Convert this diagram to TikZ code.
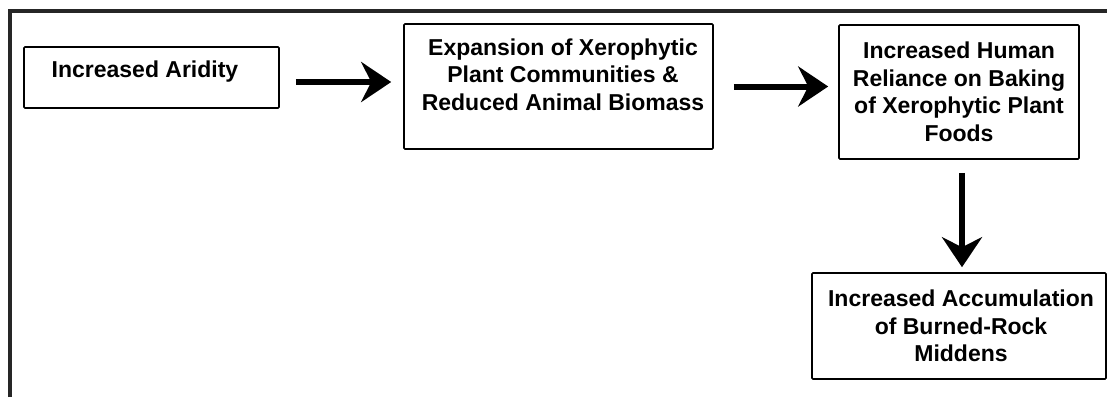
\documentclass[tikz,border=0pt]{standalone}
\usepackage{fontspec}
\setmainfont{Liberation Sans}
\usetikzlibrary{arrows.meta,positioning}
\definecolor{Ink}{HTML}{000000}
\definecolor{FrameEdge}{HTML}{262626}
\tikzset{
  stage box/.style={draw=Ink, fill=white, rounded corners=1.0pt, line width=1.6pt},
  stage text/.style={font=\bfseries\fontsize{23}{27.5}\selectfont, align=center, text=Ink,
    inner sep=0pt},
  flow arrow/.style={-{Stealth[length=30pt,width=40pt,inset=10pt]}, draw=Ink, line width=6pt},
}

\begin{document}
\begin{tikzpicture}[x=1pt,y=-1pt]
  \useasboundingbox (0,0) rectangle (1107,397);

  % What is left of the figure frame: top and left edges only.
  \draw[FrameEdge, line width=4pt] (10,397) -- (10,11.3) -- (1107,11.3);

  % Stage boxes, placed at their measured centres.
  \node[stage box, minimum width=255pt, minimum height=61pt] (aridity) at (151.5,77.5) {};
  \node[stage box, minimum width=309pt, minimum height=125pt] (xerophytes) at (558.5,86.5) {};
  \node[stage box, minimum width=240pt, minimum height=134pt] (baking) at (959,92) {};
  \node[stage box, minimum width=294pt, minimum height=106pt] (middens) at (959,326) {};

  % Box texts sit a little high in the first two boxes.
  \node[stage text] at ([xshift=-6.5pt,yshift=5.5pt]aridity.center) {Increased Aridity};
  \node[stage text] at ([xshift=4.5pt,yshift=12pt]xerophytes.center)
    {Expansion of Xerophytic\\Plant Communities \&\\Reduced Animal Biomass};
  \node[stage text] at (baking.center)
    {Increased Human\\Reliance on Baking\\of Xerophytic Plant\\Foods};
  \node[stage text] at ([xshift=2pt]middens.center)
    {Increased Accumulation\\of Burned-Rock\\Middens};

  % Causal flow between the stages.
  \draw[flow arrow, shorten <=16pt, shorten >=12pt]
    ([yshift=-4.5pt]aridity.east) -- ([yshift=-4.5pt]aridity.east -| xerophytes.west);
  \draw[flow arrow, shorten <=20pt, shorten >=10pt]
    (xerophytes.east) -- (xerophytes.east -| baking.west);
  \draw[flow arrow, shorten <=13pt, shorten >=5pt]
    ([xshift=3pt]baking.south) -- ([xshift=3pt]baking.south |- middens.north);
\end{tikzpicture}
\end{document}
